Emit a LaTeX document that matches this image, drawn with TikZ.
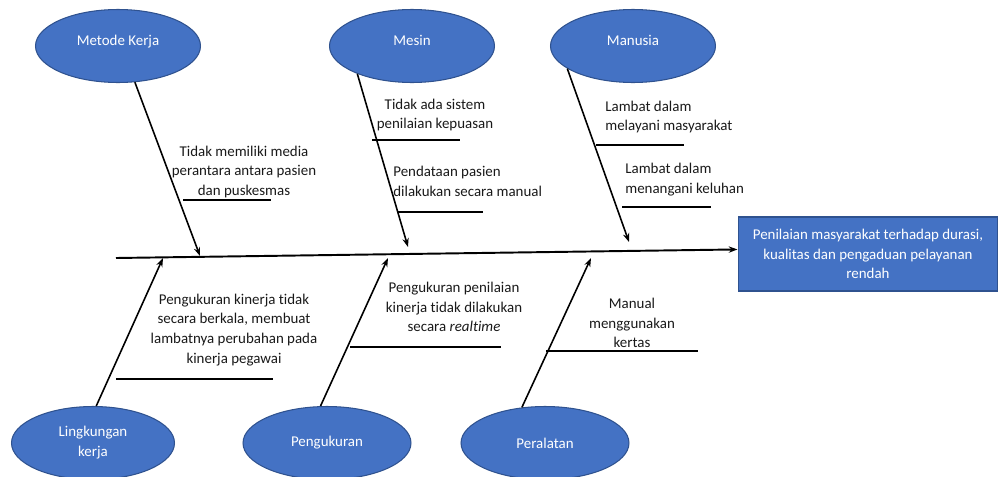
\documentclass[tikz,border=0pt]{standalone}
\usepackage{fontspec}
\setmainfont{Carlito}[Ligatures=NoCommon]
\usepackage{xcolor}
\usepackage{tikz}
\usetikzlibrary{arrows.meta,shapes.geometric}

\definecolor{azul}{HTML}{4472C4}
\definecolor{borde}{HTML}{2F528F}

\begin{document}
\begin{tikzpicture}[x=0.02cm,y=-0.02cm,
    causa/.style={ellipse,draw=borde,line width=0.6pt,fill=azul,text=white,inner sep=0pt,
      minimum width=3.3cm,minimum height=1.46cm,align=center,font=\fontsize{8.5}{11.3}\selectfont},
    efecto/.style={rectangle,draw=borde,line width=0.6pt,fill=azul,text=white,
      minimum width=5.2cm,minimum height=1.48cm,align=center,
      font=\fontsize{8.5}{11.3}\selectfont},
    flecha/.style={line width=0.9pt,-{Stealth[length=5pt,width=3.6pt]}},
    nota/.style={inner sep=0pt,text=black!90,font=\fontsize{8.5}{11.3}\selectfont}]
    \useasboundingbox (0,0) rectangle (998,477);

    % Causas (elipses)
    \node[causa,text depth=6pt] (MK) at (118,46) {Metode Kerja};
    \node[causa,text depth=6pt] (MS) at (412,46) {Mesin};
    \node[causa,text depth=6pt] (MN) at (633,46) {Manusia};
    \node[causa,minimum width=3.26cm] (LK) at (93,443) {Lingkungan\\kerja};
    \node[causa,minimum width=3.36cm] (PG) at (327,443) {Pengukuran};
    \node[causa,minimum width=3.36cm] (PL) at (545,443) {Peralatan};

    % Efecto
    \node[efecto] (R) at (868,254) {Penilaian masyarakat terhadap durasi,\\kualitas dan pengaduan pelayanan\\rendah};

    % Puntos sobre la espina
    \coordinate (S0) at (116,258);
    \coordinate (C1) at (200,256);
    \coordinate (C2) at (408,247);
    \coordinate (C3) at (629,242);
    \coordinate (C4) at (163,258);
    \coordinate (C5) at (388,258);
    \coordinate (C6) at (591,258);

    % Espina principal
    \draw[flecha,line width=1.1pt] (S0) -- (R.178);

    % Flechas de las causas
    \draw[flecha] (MK.295) -- (C1);
    \draw[flecha] (MS.207) -- (C2);
    \draw[flecha] (MN.199) -- (C3);
    \draw[flecha] (LK.85) -- (C4);
    \draw[flecha] (PG.100) -- (C5);
    \draw[flecha] (PL.123) -- (C6);

    % Subcausas arriba
    \node[nota,align=center] (T1) at (244,172) {Tidak memiliki media\\perantara antara pasien\\dan puskesmas};
    \draw[line width=0.9pt] (183,200) -- (271,200);
    \node[nota,align=center] (T2) at (435,115) {Tidak ada sistem\\penilaian kepuasan};
    \draw[line width=0.9pt] (372,140) -- (460,140);
    \node[nota,align=left,anchor=west] (T3) at (393,181) {Pendataan pasien\\dilakukan secara manual};
    \draw[line width=0.9pt] (397,212) -- (483,212);
    \node[nota,align=left,anchor=west] (T4) at (605,117) {Lambat dalam\\melayani masyarakat};
    \draw[line width=0.9pt] (596,145) -- (684,145);
    \node[nota,align=left,anchor=west] (T5) at (625,180) {Lambat dalam\\menangani keluhan};
    \draw[line width=0.9pt] (622,207) -- (711,207);

    % Subcausas abajo
    \node[nota,align=center] (T6) at (234,330) {Pengukuran kinerja tidak\\secara berkala, membuat\\lambatnya perubahan pada\\kinerja pegawai};
    \draw[line width=0.9pt] (116,379) -- (273,379);
    \node[nota,align=center] (T7) at (454,307) {Pengukuran penilaian\\kinerja tidak dilakukan\\secara \textit{realtime}};
    \draw[line width=0.9pt] (350,347) -- (501,347);
    \node[nota,align=center] (T8) at (632,323) {Manual\\menggunakan\\kertas};
    \draw[line width=0.9pt] (546,351) -- (698,351);
\end{tikzpicture}
\end{document}
